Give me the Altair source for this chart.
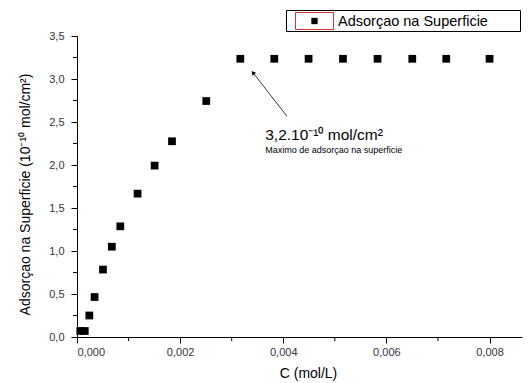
import altair as alt
import pandas as pd

# data
conc = [0.000064, 0.000151, 0.000239, 0.000341, 0.000504, 0.000675, 0.00084,
        0.001175, 0.001505, 0.001842, 0.002507, 0.003167, 0.003826, 0.004491,
        0.005158, 0.005829, 0.006502, 0.007161, 0.008001]
adsorcao = [0.07, 0.07, 0.25, 0.465, 0.784, 1.05, 1.287, 1.667, 1.993, 2.276,
            2.744, 3.235, 3.235, 3.235, 3.235, 3.235, 3.235, 3.235, 3.235]
series_name = "Adsorçao na Superficie"
x_major = [0.0, 0.002, 0.004, 0.006, 0.008]
x_minor = [0.001, 0.003, 0.005, 0.007]
y_major = [0.0, 0.5, 1.0, 1.5, 2.0, 2.5, 3.0, 3.5]
y_minor = [0.25, 0.75, 1.25, 1.75, 2.25, 2.75, 3.25]
note_main = "3,2.10⁻¹⁰ mol/cm²"
note_sub = "Maximo de adsorçao na superficie"
note_pos = [0.00365, 2.29, 2.14]        # x, y line1, y line2
arrow_tail = [0.004072, 2.566]
arrow_head = [0.003413, 3.074]

W, H = 445, 301
XD = [0, 0.00863]
YD = [0, 3.5]
FONT = "Liberation Sans"

df = pd.DataFrame({"C": conc, "A": adsorcao})
xs = alt.Scale(domain=XD, nice=False, zero=False)
ys = alt.Scale(domain=YD, nice=False, zero=False)

xaxis = alt.Axis(values=x_major, labelExpr="replace(format(datum.value, '.3f'), '.', ',')",
                 tickSize=6, tickColor="black", domainColor="black", grid=False,
                 labelFont=FONT, labelFontSize=11, labelColor="#333340", labelPadding=3,
                 title="C (mol/L)", titleFont=FONT, titleFontSize=14, titleFontWeight="normal",
                 titleColor="black", titleX=231, titleY=36, titleBaseline="middle")
yaxis = alt.Axis(values=y_major, labelExpr="replace(format(datum.value, '.1f'), '.', ',')",
                 tickSize=6, tickColor="black", domainColor="black", grid=False,
                 labelFont=FONT, labelFontSize=11, labelColor="#333340", labelPadding=7,
                 title="Adsorçao na Superficie (10⁻¹⁰ mol/cm²)", titleFont=FONT,
                 titleFontSize=14, titleFontWeight="normal", titleColor="black",
                 titleAngle=-90, titleX=-52, titleY=158, titleBaseline="middle")

points = alt.Chart(df).mark_point(shape="square", filled=True, size=60, color="black",
                                  opacity=1).encode(
    x=alt.X("C:Q", scale=xs, axis=xaxis),
    y=alt.Y("A:Q", scale=ys, axis=yaxis),
)

xminor = alt.Chart(pd.DataFrame({"v": x_minor})).mark_rule(color="black").encode(
    x=alt.X("v:Q", scale=xs), y=alt.value(H), y2=alt.value(H + 4))
yminor = alt.Chart(pd.DataFrame({"v": y_minor})).mark_rule(color="black").encode(
    y=alt.Y("v:Q", scale=ys), x=alt.value(0), x2=alt.value(-4))

arrow_df = pd.DataFrame({"x": [arrow_tail[0]], "y": [arrow_tail[1]],
                         "x2": [arrow_head[0]], "y2": [arrow_head[1]]})
arrow = alt.Chart(arrow_df).mark_rule(color="black", strokeWidth=0.8).encode(
    x=alt.X("x:Q", scale=xs), y=alt.Y("y:Q", scale=ys), x2="x2:Q", y2="y2:Q")
head = alt.Chart(pd.DataFrame({"x": [arrow_head[0]], "y": [arrow_head[1]]})).mark_point(
    shape="triangle-up", filled=True, color="black", size=22, angle=322, opacity=1).encode(
    x=alt.X("x:Q", scale=xs), y=alt.Y("y:Q", scale=ys))

note_df = pd.DataFrame({"x": [note_pos[0], note_pos[0]], "y": [note_pos[1], note_pos[2]],
                        "t": [note_main, note_sub]})
note1 = alt.Chart(note_df.iloc[[0]]).mark_text(align="left", baseline="alphabetic",
                                               font=FONT, fontSize=15.5, color="black").encode(
    x=alt.X("x:Q", scale=xs), y=alt.Y("y:Q", scale=ys), text="t:N")
note2 = alt.Chart(note_df.iloc[[1]]).mark_text(align="left", baseline="alphabetic",
                                               font=FONT, fontSize=9, color="black").encode(
    x=alt.X("x:Q", scale=xs), y=alt.Y("y:Q", scale=ys), text="t:N")

one = pd.DataFrame({"t": [series_name]})
leg_box = alt.Chart(one).mark_rect(fill="white", stroke="black", strokeWidth=1).encode(
    x=alt.value(209.5), x2=alt.value(443.5), y=alt.value(-25.5), y2=alt.value(-4.5))
leg_red = alt.Chart(one).mark_rect(fill="white", stroke="#e03030", strokeWidth=1).encode(
    x=alt.value(218.5), x2=alt.value(256.5), y=alt.value(-23.5), y2=alt.value(-6.5))
leg_mark = alt.Chart(one).mark_point(shape="square", filled=True, size=40, color="black",
                                     opacity=1).encode(x=alt.value(237.5), y=alt.value(-15))
leg_text = alt.Chart(one).mark_text(align="left", baseline="middle", font=FONT, fontSize=14.5,
                                    color="black").encode(
    x=alt.value(261), y=alt.value(-14.5), text="t:N")

chart = alt.layer(points, xminor, yminor, arrow, head, note1, note2,
                  leg_box, leg_red, leg_mark, leg_text).properties(
    width=W, height=H,
    autosize=alt.AutoSizeParams(type="none"),
    padding={"left": 69, "top": 28, "right": 1, "bottom": 45},
    background="white",
).configure_view(stroke=None)

chart.save("out.html", embed_options={"renderer": "svg", "actions": False})
